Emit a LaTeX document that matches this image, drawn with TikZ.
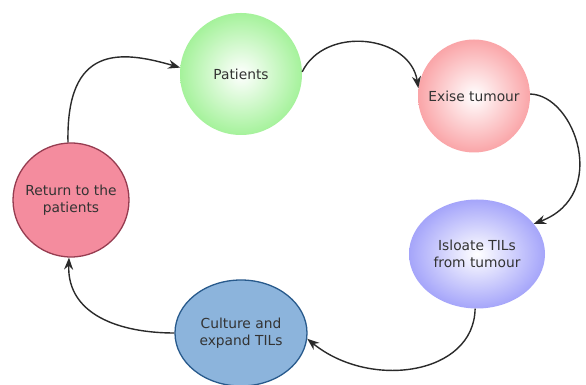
\documentclass[tikz,border=0pt]{standalone}
\usepackage{fontspec}
\setmainfont{DejaVu Sans}
\usetikzlibrary{shapes.geometric,arrows.meta}
\definecolor{txt}{HTML}{333333}
\definecolor{gout}{RGB}{165,242,155}
\definecolor{pout}{RGB}{250,165,168}
\definecolor{bout}{RGB}{165,165,250}
\definecolor{retfill}{RGB}{244,140,158}
\definecolor{retdraw}{RGB}{150,60,80}
\definecolor{culfill}{RGB}{140,180,220}
\definecolor{culdraw}{RGB}{40,90,140}
\definecolor{arr}{HTML}{2a2a2a}
\tikzset{
  stage/.style={ellipse,inner sep=0pt},
  stagetext/.style={align=center,text=txt,inner sep=0pt,
    font=\fontsize{13.8}{17}\selectfont},
  conn/.style={draw=arr,line width=1.4pt,-{Stealth[length=12pt,width=9pt]}}
}
\begin{document}
\begin{tikzpicture}[x=1pt,y=1pt]
\useasboundingbox[fill=white] (0,0) rectangle (586,385);
\node[stage,minimum width=122pt,minimum height=122pt,shading=radial,inner color=white,outer color=gout] (pat) at (241,311) {};
\node[stagetext] (patt) at (pat.center) {Patients};
\node[stage,minimum width=112pt,minimum height=113pt,shading=radial,inner color=white,outer color=pout] (exi) at (474,289) {};
\node[stagetext] (exit) at (exi.center) {Exise tumour};
\node[stage,minimum width=136pt,minimum height=109pt,shading=radial,inner color=white,outer color=bout] (iso) at (477,131) {};
\node[stagetext] (isot) at (iso.center) {Isloate TILs\\from tumour};
\node[stage,minimum width=132pt,minimum height=106pt,fill=culfill,draw=culdraw,line width=1.3pt] (cul) at (241,52) {};
\node[stagetext] (cult) at (cul.center) {Culture and\\expand TILs};
\node[stage,minimum width=116pt,minimum height=114pt,fill=retfill,draw=retdraw,line width=1.3pt] (ret) at (71,185) {};
\node[stagetext] (rett) at (ret.center) {Return to the\\patients};
\draw[conn] (ret.93) .. controls (66,340) and (120,335) .. (pat.174);
\draw[conn] (pat.2) .. controls (325,360) and (410,350) .. (exi.172);
\draw[conn] (exi.2) .. controls (575,290) and (610,190) .. (iso.28);
\draw[conn] (iso.268) .. controls (474,10) and (370,-5) .. (cul.355);
\draw[conn] (cul.180) .. controls (120,52) and (67,70) .. (ret.268);
\end{tikzpicture}
\end{document}
